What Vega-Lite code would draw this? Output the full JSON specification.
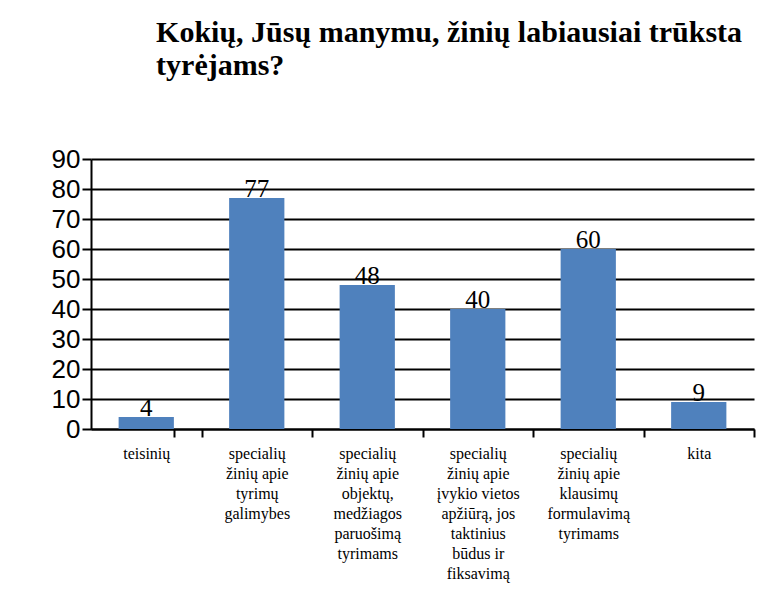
{
  "$schema": "https://vega.github.io/schema/vega-lite/v6.json",
  "autosize": {"type": "none"},
  "width": 663,
  "height": 270,
  "padding": {"left": 91, "top": 159, "right": 8, "bottom": 185},
  "background": "white",
  "title": {
    "text": ["Kokių, Jūsų manymu, žinių labiausiai trūksta", "tyrėjams?"],
    "anchor": "start",
    "dx": 105,
    "offset": 65,
    "font": "'Liberation Serif', 'Times New Roman', 'DejaVu Serif', serif",
    "fontSize": 30,
    "fontWeight": "bold",
    "lineHeight": 33,
    "color": "black"
  },
  "config": {"view": {"stroke": null}},
  "data": {
    "values": [
      {"cat": "teisinių", "value": 4},
      {"cat": "tyrimų galimybes", "value": 77},
      {"cat": "objektų", "value": 48},
      {"cat": "įvykio vietos", "value": 40},
      {"cat": "klausimų", "value": 60},
      {"cat": "kita", "value": 9}
    ]
  },
  "encoding": {
    "x": {
      "field": "cat",
      "type": "nominal",
      "sort": null,
      "scale": {"paddingInner": 0.5, "paddingOuter": 0.25},
      "axis": {
        "title": null,
        "labelExpr": "{'teisinių':['teisinių'],'tyrimų galimybes':['specialių','žinių apie','tyrimų','galimybes'],'objektų':['specialių','žinių apie','objektų,','medžiagos','paruošimą','tyrimams'],'įvykio vietos':['specialių','žinių apie','įvykio vietos','apžiūrą, jos','taktinius','būdus ir','fiksavimą'],'klausimų':['specialių','žinių apie','klausimų','formulavimą','tyrimams'],'kita':['kita']}[datum.value]",
        "labelAngle": 0,
        "labelFont": "'Liberation Serif', 'Times New Roman', 'DejaVu Serif', serif",
        "labelFontSize": 16,
        "labelLineHeight": 20,
        "labelColor": "black",
        "labelPadding": 8,
        "labelBaseline": "top",
        "tickOffset": 55.25,
        "labelOffset": -55.25,
        "tickExtra": true,
        "tickColor": "black",
        "tickWidth": 2,
        "tickSize": 8,
        "domainColor": "black",
        "domainWidth": 2,
        "grid": false
      }
    },
    "y": {
      "field": "value",
      "type": "quantitative",
      "scale": {"domain": [0, 90], "nice": false},
      "axis": {
        "title": null,
        "values": [0, 10, 20, 30, 40, 50, 60, 70, 80, 90],
        "labelFont": "'Liberation Sans', Arial, sans-serif",
        "labelFontSize": 26,
        "labelColor": "black",
        "labelPadding": 2,
        "tickColor": "black",
        "tickWidth": 2,
        "tickSize": 9,
        "domainColor": "black",
        "domainWidth": 2,
        "gridColor": "black",
        "gridWidth": 2,
        "gridOpacity": 1
      }
    }
  },
  "layer": [
    {"mark": {"type": "bar", "color": "#4F81BD"}},
    {
      "mark": {"type": "text", "baseline": "bottom", "dy": 4, "font": "'Liberation Serif', 'Times New Roman', 'DejaVu Serif', serif", "fontSize": 25, "color": "black"},
      "encoding": {"text": {"field": "value", "type": "quantitative"}}
    }
  ]
}
